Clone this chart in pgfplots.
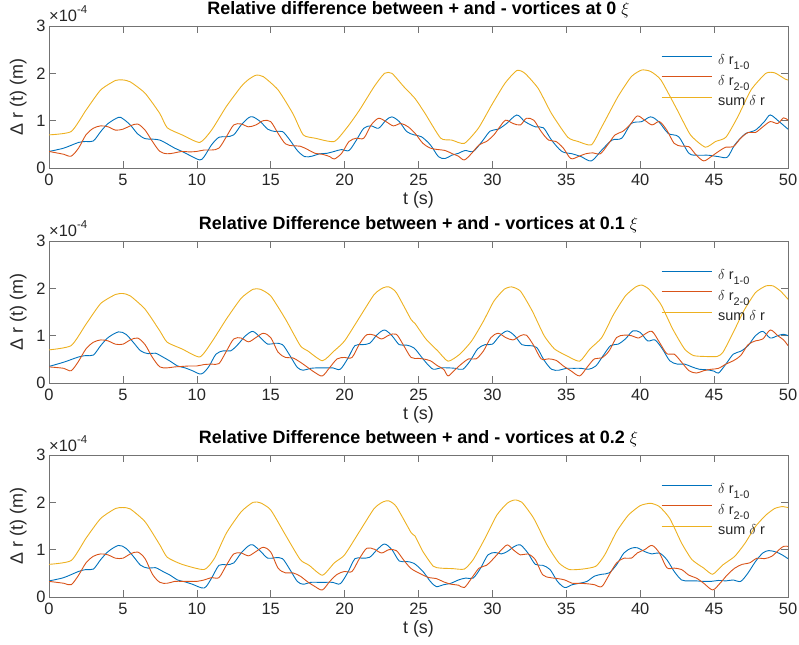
\documentclass[border=0pt]{standalone}
\usepackage{fontspec}
\setmainfont{Liberation Sans}
\usepackage{pgfplots}
\pgfplotsset{compat=1.18}
\definecolor{mblue}{rgb}{0,0.447,0.741}
\definecolor{mred}{rgb}{0.85,0.325,0.098}
\definecolor{myellow}{rgb}{0.929,0.694,0.125}
\newcommand{\sub}[1]{\raisebox{-5bp}{\fontsize{11}{11}\selectfont #1}}
\pgfplotsset{panel/.style={
  scale only axis, width=739bp, height=142bp,
  xmin=0, xmax=50, ymin=0, ymax=3,
  xtick={0,5,...,50}, ytick={0,1,2,3},
  tick align=inside, tick pos=both, major tick length=7bp,
  axis line style={black!55, line width=0.6bp},
  every tick/.style={black!55, line width=0.6bp},
  /pgf/number format/assume math mode=true,
  ticklabel style={font=\fontsize{16.5}{18}\selectfont, text=black!85},
  xticklabel style={yshift=-3bp},
  xlabel={t (s)}, ylabel={Δ r (t) (m)},
  label style={font=\fontsize{18}{20}\selectfont, text=black!85},
  xlabel style={at={([yshift=-37bp]axis description cs:0.5,0)}, anchor=base},
  ylabel style={at={([xshift=-26bp]axis description cs:0,0.5)}, anchor=base},
  title style={font=\bfseries\fontsize{18}{20}\selectfont, text=black, at={([yshift=5.5bp]axis description cs:0.5,1)}, anchor=base},
  legend style={draw=none, fill=none, font=\fontsize{14.5}{16}\selectfont, text=black!85,
    at={(0.8281,0.80)}, anchor=north west, inner sep=0pt, nodes={inner sep=0pt}, column sep=6bp, row sep=9bp},
  legend cell align=left,
  legend image code/.code={\draw[#1] (0bp,4bp) -- (50bp,4bp);},
  every axis plot/.append style={line width=0.9bp},
  clip mode=individual,
}}
\begin{document}
\begin{tikzpicture}
\useasboundingbox (0,0) rectangle (799bp,645bp);
% ---------------- panel 1
\begin{axis}[panel, at={(49bp,477bp)}, anchor=south west,
  title={Relative difference between + and - vortices at 0 $\xi$}]
\addplot[mblue, smooth, tension=0.5] coordinates {(0,0.35)(1,0.42)(2,0.54)(2.5,0.56)(3,0.57)(3.5,0.77)(4,0.94)(4.7,1.07)(5,1.04)(5.5,0.91)(6,0.72)(6.5,0.62)(7,0.61)(7.5,0.59)(8,0.51)(8.5,0.42)(9,0.35)(9.5,0.27)(10.2,0.17)(10.5,0.24)(11,0.49)(11.5,0.65)(12,0.66)(12.5,0.70)(13,0.91)(13.5,1.06)(13.8,1.08)(14.3,0.98)(14.8,0.82)(15.3,0.77)(15.8,0.77)(16.3,0.59)(16.8,0.37)(17.3,0.24)(17.8,0.25)(18.3,0.30)(18.8,0.31)(19.3,0.35)(19.8,0.39)(20.3,0.37)(20.8,0.59)(21.3,0.84)(21.8,0.89)(22.3,0.84)(22.8,1.01)(23.2,1.08)(23.7,0.98)(24.2,0.77)(24.7,0.70)(25.2,0.66)(25.8,0.49)(26.35,0.24)(26.8,0.20)(27.25,0.27)(27.7,0.31)(28.15,0.37)(28.7,0.35)(29.3,0.56)(29.85,0.78)(30.4,0.82)(30.96,0.94)(31.65,1.12)(32.2,0.98)(32.9,0.87)(33.45,0.85)(34,0.59)(34.7,0.35)(35.4,0.30)(36,0.24)(36.7,0.15)(37.4,0.38)(38.1,0.59)(38.75,0.63)(39.4,0.94)(40.1,0.98)(40.7,1.08)(41.25,0.98)(41.9,0.73)(42.6,0.66)(43.3,0.31)(43.9,0.27)(44.6,0.27)(45.3,0.24)(45.9,0.23)(46.4,0.49)(47.1,0.72)(47.8,0.80)(48.4,0.98)(48.8,1.12)(49.4,0.98)(50,0.82)};
\addplot[mred, smooth, tension=0.5] coordinates {(0,0.35)(0.5,0.32)(1,0.29)(1.5,0.25)(2,0.42)(2.5,0.70)(3,0.84)(3.5,0.89)(4,0.87)(4.5,0.80)(5,0.82)(5.5,0.89)(6,0.93)(6.5,0.80)(7,0.56)(7.5,0.35)(8,0.30)(8.5,0.32)(9,0.35)(9.5,0.34)(10,0.35)(10.5,0.38)(11,0.38)(11.5,0.42)(12,0.66)(12.5,0.91)(13,0.93)(13.5,0.87)(14,0.91)(14.5,1.00)(15,0.98)(15.5,0.73)(16,0.51)(16.5,0.47)(17,0.46)(17.5,0.39)(18,0.31)(18.5,0.29)(19,0.24)(19.3,0.19)(19.8,0.31)(20.3,0.56)(20.8,0.63)(21.3,0.63)(21.8,0.91)(22.3,1.05)(22.8,0.98)(23.3,0.89)(23.8,0.94)(24.3,0.87)(24.8,0.72)(25.3,0.52)(25.8,0.42)(26.3,0.39)(26.8,0.37)(27.3,0.30)(27.7,0.25)(28.1,0.17)(28.6,0.31)(29.1,0.49)(29.6,0.56)(30.1,0.70)(30.5,0.87)(30.9,1.01)(31.4,0.94)(31.9,0.91)(32.3,1.05)(32.8,1.01)(33.3,0.77)(33.8,0.59)(34.3,0.56)(34.8,0.42)(35.3,0.20)(35.8,0.24)(36.3,0.30)(36.8,0.32)(37.3,0.30)(37.8,0.49)(38.3,0.70)(38.8,0.77)(39.3,0.91)(39.8,1.10)(40.3,1.01)(40.8,0.91)(41.3,0.98)(41.8,0.80)(42.3,0.52)(42.8,0.46)(43.3,0.45)(43.8,0.27)(44.3,0.15)(44.8,0.24)(45.3,0.35)(45.8,0.44)(46.3,0.45)(46.8,0.63)(47.3,0.75)(47.8,0.75)(48.3,0.87)(48.8,0.98)(49.3,0.94)(49.7,1.06)(50,1.01)};
\addplot[myellow, smooth, tension=0.35] coordinates {(0,0.70)(1.5,0.77)(2.5,1.22)(3.5,1.65)(4.5,1.85)(5,1.86)(5.5,1.82)(6.5,1.58)(7.5,1.15)(8,0.85)(9,0.70)(10.2,0.54)(11,0.80)(12,1.30)(13,1.72)(13.5,1.87)(14,1.96)(14.5,1.93)(15.5,1.65)(16.5,1.15)(17.2,0.70)(18,0.63)(19.3,0.56)(20.2,0.87)(21,1.22)(22,1.72)(22.7,2.0)(23.2,2.0)(24,1.72)(24.76,1.47)(25.45,1.15)(26.5,0.63)(27.25,0.59)(28.1,0.52)(29.05,0.84)(29.95,1.33)(30.85,1.79)(31.65,2.06)(32.2,2.0)(33.1,1.68)(34,1.15)(35.1,0.65)(35.8,0.56)(36.7,0.49)(37.4,0.87)(38.5,1.51)(39.4,1.93)(40.1,2.07)(40.7,2.04)(41.4,1.86)(42.5,1.23)(43.4,0.70)(44.4,0.44)(45.1,0.56)(45.8,0.65)(46.6,1.08)(47.5,1.65)(48.5,2.0)(49.1,2.01)(49.8,1.88)(50,1.86)};
\legend{$\delta$ r\sub{1-0}, $\delta$ r\sub{2-0}, sum $\delta$ r}
\node[anchor=base west, inner sep=0pt, font=\fontsize{16.5}{18}\selectfont, text=black!85] at ([yshift=4bp]rel axis cs:0,1) {×10\raisebox{8bp}{\fontsize{11.5}{12}\selectfont -4}};
\end{axis}
% ---------------- panel 2
\begin{axis}[panel, at={(49bp,262bp)}, anchor=south west,
  title={Relative Difference between + and - vortices at 0.1 $\xi$}]
\addplot[mblue, smooth, tension=0.5] coordinates {(0,0.35)(1,0.44)(2,0.55)(2.5,0.58)(3,0.59)(3.5,0.79)(4,0.96)(4.7,1.08)(5.2,1.03)(5.7,0.86)(6.2,0.68)(6.7,0.62)(7.2,0.63)(7.7,0.55)(8.2,0.46)(8.7,0.36)(9.2,0.32)(9.7,0.26)(10.3,0.19)(10.8,0.34)(11.3,0.61)(11.8,0.68)(12.3,0.68)(12.8,0.82)(13.3,1.0)(13.8,1.09)(14.3,0.96)(14.8,0.82)(15.3,0.84)(15.8,0.81)(16.3,0.58)(16.8,0.33)(17.2,0.27)(17.7,0.31)(18.2,0.32)(18.7,0.32)(19.2,0.32)(19.7,0.29)(20.2,0.51)(20.7,0.79)(21.2,0.81)(21.7,0.84)(22.2,1.02)(22.7,1.12)(23.2,1.0)(23.7,0.81)(24.2,0.80)(24.7,0.74)(25.2,0.55)(25.6,0.40)(26,0.29)(26.5,0.32)(27,0.32)(27.5,0.31)(28,0.29)(28.5,0.47)(29,0.72)(29.5,0.81)(30,0.82)(30.5,1.0)(31,1.10)(31.5,1.0)(32,0.81)(32.5,0.79)(33,0.75)(33.5,0.48)(34,0.29)(34.5,0.27)(35,0.31)(35.5,0.31)(36,0.31)(36.5,0.29)(37,0.36)(37.5,0.58)(38,0.79)(38.5,0.82)(39,0.93)(39.5,1.10)(40,1.07)(40.5,0.89)(41,0.91)(41.5,0.72)(42,0.47)(42.5,0.40)(43,0.40)(43.5,0.34)(44,0.29)(44.5,0.28)(45,0.25)(45.3,0.21)(45.8,0.40)(46.3,0.61)(46.8,0.67)(47.3,0.79)(47.8,1.0)(48.3,1.09)(48.8,0.95)(49.3,1.0)(49.7,1.03)(50,1.0)};
\addplot[mred, smooth, tension=0.5] coordinates {(0,0.34)(1,0.31)(1.5,0.26)(2,0.46)(2.5,0.72)(3,0.86)(3.5,0.91)(4,0.89)(4.5,0.82)(5,0.82)(5.5,0.91)(6,0.95)(6.5,0.81)(7,0.54)(7.5,0.34)(8,0.32)(8.5,0.34)(9,0.35)(9.5,0.36)(10,0.36)(10.5,0.39)(11,0.40)(11.5,0.41)(12,0.67)(12.5,0.93)(13,0.95)(13.5,0.87)(14,0.96)(14.5,1.05)(15,0.96)(15.5,0.65)(16,0.54)(16.5,0.53)(17,0.44)(17.5,0.33)(18,0.22)(18.5,0.15)(19,0.33)(19.5,0.51)(20,0.54)(20.5,0.54)(21,0.82)(21.5,1.02)(22,1.01)(22.5,0.93)(23,1.01)(23.5,1.03)(24,0.79)(24.5,0.54)(25,0.52)(25.3,0.51)(25.8,0.47)(26.3,0.36)(26.7,0.29)(27,0.15)(27.4,0.26)(27.9,0.40)(28.4,0.51)(28.9,0.51)(29.4,0.68)(29.9,0.96)(30.4,1.05)(30.9,0.96)(31.4,0.91)(31.9,1.0)(32.3,1.01)(32.8,0.79)(33.3,0.51)(33.8,0.51)(34.3,0.48)(34.8,0.36)(35.3,0.26)(35.9,0.15)(36.4,0.33)(36.9,0.51)(37.4,0.53)(37.9,0.68)(38.4,0.96)(38.9,1.01)(39.4,1.0)(39.9,0.95)(40.3,1.03)(40.8,1.09)(41.3,0.86)(41.8,0.62)(42.3,0.61)(42.8,0.44)(43.3,0.26)(43.8,0.21)(44.3,0.26)(44.8,0.29)(45.3,0.31)(45.8,0.40)(46.3,0.47)(46.8,0.58)(47.3,0.81)(47.8,0.89)(48.3,0.93)(48.8,1.12)(49.3,1.0)(49.7,0.91)(50,0.79)};
\addplot[myellow, smooth, tension=0.35] coordinates {(0,0.70)(1.5,0.79)(2.5,1.24)(3.5,1.68)(4.5,1.87)(5,1.89)(5.5,1.84)(6.5,1.56)(7.5,1.10)(8,0.86)(9,0.72)(10.2,0.55)(11,0.86)(12,1.35)(13,1.79)(13.8,1.98)(14.3,1.98)(15,1.84)(16,1.35)(17,0.79)(17.5,0.68)(18.5,0.47)(19.3,0.68)(20,0.89)(21,1.38)(22,1.87)(22.6,2.01)(23,2.03)(23.5,1.91)(24.5,1.34)(24.76,1.26)(25.5,0.93)(26.3,0.68)(27,0.46)(27.8,0.61)(28.6,0.89)(29.4,1.31)(30.1,1.73)(30.8,1.98)(31.3,2.03)(31.9,1.94)(32.7,1.52)(33.5,1.0)(34.2,0.72)(35,0.58)(35.9,0.46)(36.6,0.72)(37.4,0.96)(38.2,1.45)(39,1.84)(39.7,2.03)(40.1,2.07)(40.6,1.98)(41.4,1.66)(42.2,1.14)(43,0.72)(43.6,0.58)(44.4,0.56)(45.2,0.56)(45.6,0.65)(46.3,1.07)(47,1.52)(47.8,1.91)(48.5,2.05)(49,2.05)(49.5,1.94)(50,1.77)};
\legend{$\delta$ r\sub{1-0}, $\delta$ r\sub{2-0}, sum $\delta$ r}
\node[anchor=base west, inner sep=0pt, font=\fontsize{16.5}{18}\selectfont, text=black!85] at ([yshift=4bp]rel axis cs:0,1) {×10\raisebox{8bp}{\fontsize{11.5}{12}\selectfont -4}};
\end{axis}
% ---------------- panel 3
\begin{axis}[panel, at={(49bp,48bp)}, anchor=south west,
  title={Relative Difference between + and - vortices at 0.2 $\xi$}]
\addplot[mblue, smooth, tension=0.5] coordinates {(0,0.34)(1,0.41)(2,0.54)(2.5,0.58)(3,0.59)(3.5,0.79)(4,0.96)(4.7,1.09)(5.2,1.03)(5.7,0.86)(6.2,0.67)(6.7,0.61)(7.2,0.62)(7.7,0.54)(8.2,0.46)(8.7,0.36)(9.2,0.32)(9.7,0.27)(10.5,0.19)(11,0.40)(11.5,0.67)(12,0.68)(12.5,0.72)(13,0.93)(13.5,1.08)(13.8,1.10)(14.3,0.97)(14.8,0.82)(15.3,0.83)(15.8,0.81)(16.3,0.58)(16.8,0.33)(17.2,0.27)(17.7,0.31)(18.2,0.31)(18.7,0.31)(19.2,0.31)(19.7,0.28)(20.2,0.51)(20.7,0.81)(21.2,0.82)(21.7,0.84)(22.2,1.0)(22.7,1.12)(23.2,1.0)(23.7,0.76)(24.2,0.75)(24.7,0.71)(25.3,0.54)(25.8,0.33)(26.2,0.22)(26.7,0.26)(27.2,0.29)(27.7,0.36)(28.2,0.40)(28.7,0.40)(29.2,0.61)(29.7,0.89)(30.2,0.94)(30.6,0.91)(31,0.96)(31.5,1.07)(31.9,1.10)(32.4,0.93)(32.9,0.69)(33.4,0.67)(33.9,0.58)(34.4,0.33)(34.9,0.20)(35.4,0.26)(35.9,0.29)(36.4,0.33)(36.9,0.44)(37.4,0.48)(37.9,0.51)(38.4,0.68)(38.9,0.93)(39.4,1.03)(39.8,1.04)(40.3,0.96)(40.8,0.91)(41.3,0.93)(41.8,0.79)(42.3,0.54)(42.8,0.36)(43.3,0.34)(43.8,0.34)(44.3,0.33)(44.8,0.33)(45.3,0.35)(45.8,0.34)(46.3,0.36)(46.8,0.33)(47.3,0.51)(47.8,0.75)(48.3,0.93)(48.7,0.98)(49.2,0.95)(49.6,0.89)(50,0.81)};
\addplot[mred, smooth, tension=0.5] coordinates {(0,0.33)(1,0.29)(1.5,0.26)(2,0.46)(2.5,0.72)(3,0.86)(3.5,0.91)(4,0.89)(4.5,0.82)(5,0.82)(5.5,0.91)(6,0.95)(6.5,0.81)(7,0.48)(7.5,0.31)(8,0.29)(8.5,0.33)(9,0.33)(9.5,0.33)(10,0.33)(10.5,0.36)(11,0.41)(11.5,0.41)(12,0.67)(12.5,0.91)(13,0.93)(13.5,0.87)(14,0.96)(14.5,1.05)(15,0.95)(15.5,0.61)(16,0.51)(16.5,0.51)(17,0.44)(17.5,0.32)(18,0.22)(18.5,0.15)(19,0.33)(19.5,0.48)(20,0.54)(20.5,0.54)(21,0.81)(21.5,1.03)(22,1.01)(22.5,0.93)(23,1.0)(23.5,0.98)(24,0.78)(24.5,0.60)(25.2,0.48)(25.7,0.41)(26.2,0.39)(26.7,0.32)(27.2,0.27)(27.7,0.25)(28.1,0.20)(28.6,0.40)(29.1,0.61)(29.6,0.67)(30.1,0.82)(30.5,0.96)(31,1.10)(31.4,1.0)(31.9,0.89)(32.4,0.91)(32.9,0.79)(33.4,0.47)(33.9,0.41)(34.4,0.39)(34.9,0.36)(35.4,0.29)(35.9,0.29)(36.4,0.28)(36.9,0.26)(37.4,0.22)(37.9,0.47)(38.4,0.72)(38.9,0.82)(39.4,0.82)(39.8,0.93)(40.3,1.0)(40.8,1.09)(41.3,0.93)(41.8,0.62)(42.3,0.61)(42.8,0.58)(43.3,0.46)(43.8,0.40)(44.3,0.29)(44.9,0.15)(45.4,0.29)(45.9,0.47)(46.4,0.61)(46.9,0.69)(47.4,0.72)(47.9,0.82)(48.4,0.81)(48.9,0.86)(49.4,1.0)(49.7,1.07)(50,1.07)};
\addplot[myellow, smooth, tension=0.35] coordinates {(0,0.69)(1.5,0.77)(2.5,1.24)(3.5,1.66)(4.5,1.87)(5,1.89)(5.5,1.86)(6.5,1.59)(7.5,1.10)(8,0.84)(9,0.69)(10.5,0.58)(11.2,0.82)(12,1.35)(13,1.80)(13.8,2.0)(14.3,1.99)(15,1.84)(16,1.31)(17,0.79)(17.6,0.67)(18.5,0.46)(19.3,0.72)(20,0.89)(21,1.38)(22,1.87)(22.6,2.01)(23,2.03)(23.5,1.91)(24.5,1.36)(24.76,1.29)(25.3,0.96)(26,0.65)(26.5,0.61)(27.3,0.60)(28.1,0.59)(28.7,0.79)(29.5,1.24)(30.3,1.73)(31,1.98)(31.5,2.05)(32,2.0)(32.8,1.66)(33.7,1.10)(34.5,0.72)(35.2,0.58)(36.1,0.59)(37,0.65)(37.6,0.89)(38.4,1.38)(39.2,1.73)(40,1.93)(40.7,1.98)(41.3,1.91)(42,1.66)(42.8,1.14)(43.5,0.79)(44.3,0.61)(44.9,0.48)(45.6,0.68)(46.4,0.86)(47.1,1.14)(47.8,1.49)(48.5,1.73)(49.1,1.87)(49.6,1.91)(50,1.89)};
\legend{$\delta$ r\sub{1-0}, $\delta$ r\sub{2-0}, sum $\delta$ r}
\node[anchor=base west, inner sep=0pt, font=\fontsize{16.5}{18}\selectfont, text=black!85] at ([yshift=4bp]rel axis cs:0,1) {×10\raisebox{8bp}{\fontsize{11.5}{12}\selectfont -4}};
\end{axis}
\end{tikzpicture}
\end{document}
